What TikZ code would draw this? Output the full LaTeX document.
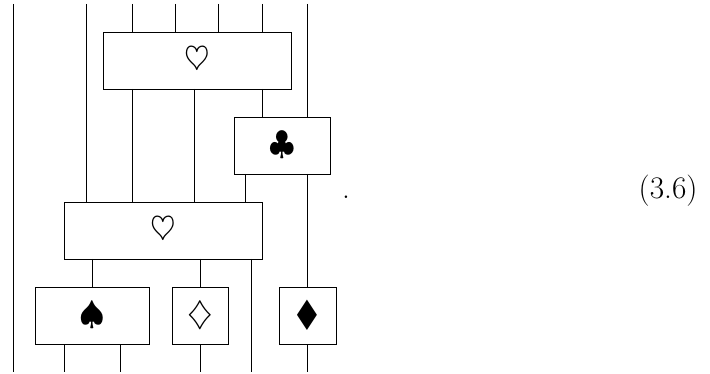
\documentclass[tikz,border=0pt]{standalone}
\usepackage{amssymb}
\usepackage{fontspec}
\newfontfamily\suitfont{DejaVu Sans}
\tikzset{
  bigtext/.style={font=\fontsize{16.5}{18}\selectfont},
  cardbox/.style={draw,bigtext,inner sep=0pt,outer sep=0pt,minimum height=30pt},
}

\begin{document}
\begin{tikzpicture}[x=.5263pt,y=-.5263pt,line width=.5pt]
    \useasboundingbox (0,0) rectangle (710,374);
    % the boxes
    \node[cardbox,minimum width=98.7pt] (hearttop) at (197.25,60.5) {\(\heartsuit\)};
    \node[cardbox,minimum width=50.8pt] (club) at (282.25,145.5) {\(\clubsuit\)};
    \node[cardbox,minimum width=104.3pt] (heartlow) at (163.25,230.5) {\(\heartsuit\)};
    \node[cardbox,minimum width=60pt] (spade) at (92.25,315.5) {\(\spadesuit\)};
    \node[cardbox,minimum width=29.7pt] (dia) at (200.25,315.5) {\(\diamondsuit\)};
    \node[cardbox,minimum width=30pt] (blackdia) at (307.5,315.5) {\suitfont\fontsize{22}{24}\selectfont\scalebox{.85}[1]{♦}};
    \node[anchor=base,bigtext,inner sep=0pt] (dot) at (346,198.5) {.};
    \node[anchor=base east,bigtext,inner sep=0pt] (eqno) at (698,199) {(3.6)};
    % free ends of the wires
    \coordinate (t1) at (13,4);
    \coordinate (t2) at (86.5,4);
    \coordinate (t3) at (132,4);
    \coordinate (t4) at (175,4);
    \coordinate (t5) at (218,4);
    \coordinate (t6) at (262,4);
    \coordinate (t7) at (307.5,4);
    \coordinate (b1) at (13,372);
    \coordinate (b2) at (64,372);
    \coordinate (b3) at (120.5,372);
    \coordinate (b4) at (200.25,372);
    \coordinate (b5) at (251,372);
    \coordinate (b6) at (307.5,372);
    \coordinate (m1) at (194,100);
    \coordinate (m2) at (245,190);
    % the wires
    \draw (t1)--(b1);
    \draw (t2)--(t2 |- heartlow.north);
    \draw (t3)--(t3 |- hearttop.north);
    \draw (t4)--(t4 |- hearttop.north);
    \draw (t5)--(t5 |- hearttop.north);
    \draw (t6)--(t6 |- hearttop.north);
    \draw (t7)--(t7 |- club.north);
    \draw (t3 |- hearttop.south)--(t3 |- heartlow.north);
    \draw (m1 |- hearttop.south)--(m1 |- heartlow.north);
    \draw (t6 |- hearttop.south)--(t6 |- club.north);
    \draw (m2 |- club.south)--(m2 |- heartlow.north);
    \draw (t7 |- club.south)--(blackdia.north);
    \draw (heartlow.south -| spade)--(spade.north);
    \draw (heartlow.south -| dia)--(dia.north);
    \draw (b5 |- heartlow.south)--(b5);
    \draw (b2 |- spade.south)--(b2);
    \draw (b3 |- spade.south)--(b3);
    \draw (dia.south)--(b4);
    \draw (blackdia.south)--(b6);
\end{tikzpicture}
\end{document}
